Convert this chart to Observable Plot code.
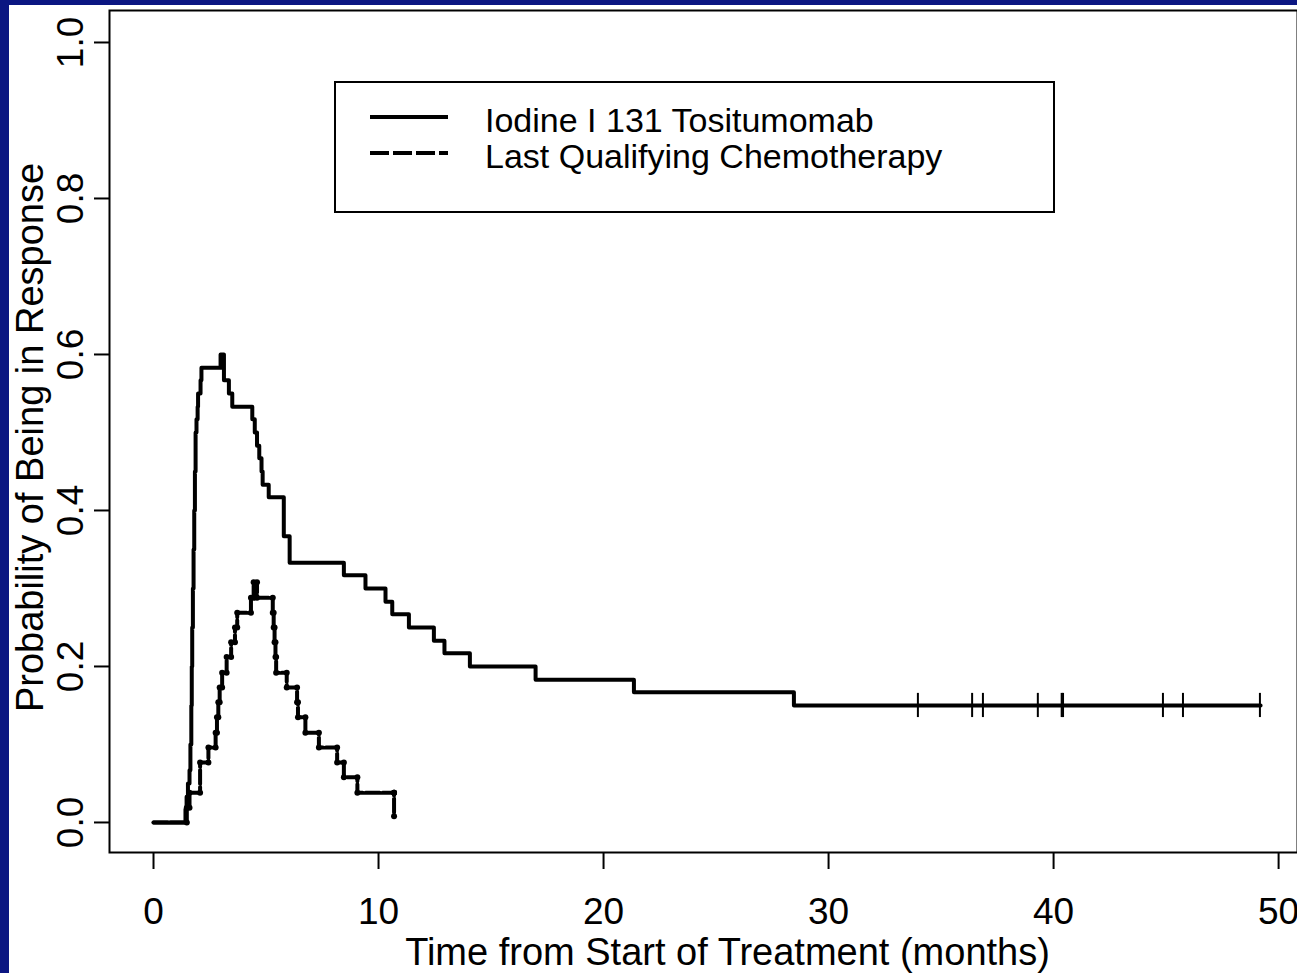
<!DOCTYPE html>
<html><head><meta charset="utf-8">
<script src="https://cdn.jsdelivr.net/npm/d3@7"></script>
<script src="https://cdn.jsdelivr.net/npm/@observablehq/plot@0.6"></script>
<style>
html,body{margin:0;padding:0;background:#0b1682;overflow:hidden;width:1297px;height:973px;}
#wrap{position:absolute;left:9px;top:5px;width:1288px;height:968px;background:#fff;overflow:hidden;}
#chart{position:absolute;left:0;top:0;}
#legend{position:absolute;left:325px;top:76px;width:721px;height:132px;box-sizing:border-box;border:2px solid #000;background:#fff;}
</style></head><body>
<div id="wrap"><div id="chart"></div><div id="legend"></div></div>
<script>
// ---- data ----
const seriesNames = ["Iodine I 131 Tositumomab", "Last Qualifying Chemotherapy"];
const xTicks = [0, 10, 20, 30, 40, 50];
const yTicks = [0, 0.2, 0.4, 0.6, 0.8, 1.0];
const xTitle = "Time from Start of Treatment (months)";
const yTitle = "Probability of Being in Response";

const iodineTime = [0, 1.42, 1.47, 1.53, 1.60, 1.64, 1.68, 1.70, 1.72, 1.75, 1.78, 1.81, 1.84, 1.87, 1.91, 1.96, 1.98, 2.09, 2.13, 2.98, 3.13, 3.35, 3.50, 4.39, 4.50, 4.60, 4.70, 4.80, 4.85, 5.12, 5.79, 6.05, 8.46, 9.42, 10.31, 10.61, 11.35, 12.46, 12.93, 14.06, 16.98, 21.35, 28.46, 49.20];
const iodineProb = [0, 0.017, 0.033, 0.05, 0.067, 0.10, 0.15, 0.20, 0.25, 0.30, 0.35, 0.40, 0.45, 0.50, 0.517, 0.533, 0.55, 0.567, 0.583, 0.60, 0.567, 0.55, 0.533, 0.517, 0.50, 0.483, 0.467, 0.45, 0.433, 0.417, 0.367, 0.333, 0.317, 0.30, 0.283, 0.267, 0.25, 0.233, 0.217, 0.20, 0.183, 0.167, 0.15, 0.15];
const iodineCensor = [33.97, 36.38, 36.86, 39.30, 40.36, 40.42, 44.86, 45.75, 49.17];

const chemoTime = [0, 1.48, 1.60, 2.07, 2.44, 2.76, 2.82, 2.88, 2.94, 3.05, 3.25, 3.45, 3.62, 3.72, 4.33, 4.45, 4.60, 5.30, 5.34, 5.38, 5.42, 5.45, 5.92, 6.38, 6.42, 6.75, 7.35, 8.16, 8.46, 9.06, 10.69, 10.69];
const chemoProb = [0, 0.019, 0.038, 0.077, 0.096, 0.115, 0.135, 0.154, 0.173, 0.192, 0.212, 0.231, 0.250, 0.269, 0.288, 0.308, 0.288, 0.269, 0.250, 0.231, 0.212, 0.192, 0.173, 0.154, 0.135, 0.115, 0.096, 0.077, 0.058, 0.038, 0.038, 0.008];

// ---- build tables ----
const iodine = iodineTime.map((t, i) => ({t, p: iodineProb[i]}));
const chemo = chemoTime.map((t, i) => ({t, p: chemoProb[i]}));
const chemoCorners = [];
chemo.forEach((d, i) => {
  if (i > 0) chemoCorners.push({t: d.t, p: chemo[i - 1].p});
  if (i > 0) chemoCorners.push(d);
});
const censorLevel = iodineProb[iodineProb.length - 1];

const font = "'Liberation Sans', Arial, Helvetica, sans-serif";

const chart = Plot.plot({
  width: 1288, height: 968,
  marginLeft: 100, marginRight: 0, marginTop: 5, marginBottom: 121,
  style: {fontFamily: font, background: "transparent", color: "#000"},
  x: {domain: [-1.956, 50.84]},
  y: {domain: [-0.0385, 1.041]},
  marks: [
    Plot.frame({stroke: "#000", strokeWidth: 2}),
    Plot.axisX({ticks: xTicks, tickSize: 17, tickPadding: 28, fontSize: 37, label: null, strokeWidth: 2}),
    Plot.axisY({ticks: yTicks, tickFormat: d3.format(".1f"), tickSize: 15, tickPadding: 12, tickRotate: -90, fontSize: 37, label: null, strokeWidth: 2}),
    Plot.line(iodine, {x: "t", y: "p", curve: "step-after", stroke: "#000", strokeWidth: 4}),
    Plot.ruleX(iodineCensor, {x: d => d, y1: censorLevel - 0.0155, y2: censorLevel + 0.0155, stroke: "#000", strokeWidth: 2}),
    Plot.line(chemo, {x: "t", y: "p", curve: "step-after", stroke: "#000", strokeWidth: 4, strokeDasharray: "14,3"}),
    Plot.dot(chemoCorners, {x: "t", y: "p", r: 3, fill: "#000", stroke: null}),
    Plot.text([xTitle], {text: d => d, frameAnchor: "bottom", lineAnchor: "bottom", textAnchor: "middle", dy: 112, dx: 24, fontSize: 38, fill: "#000"}),
    Plot.text([yTitle], {text: d => d, frameAnchor: "left", rotate: -90, textAnchor: "middle", lineAnchor: "bottom", dx: -67, dy: 6, fontSize: 38, fill: "#000"})
  ]
});
document.getElementById("chart").appendChild(chart);

// ---- legend ----
const legend = d3.select("#legend").append("svg").attr("width", 717).attr("height", 128)
  .style("font-family", font);
const dashes = [null, "19,4"];
seriesNames.forEach((name, i) => {
  const y = 34 + i * 36;
  legend.append("line").attr("x1", 34).attr("x2", 112).attr("y1", y).attr("y2", y)
    .attr("stroke", "#000").attr("stroke-width", 4).attr("stroke-dasharray", dashes[i]);
  legend.append("text").attr("x", 149).attr("y", y + 15).attr("font-size", 34).text(name);
});
</script></body></html>
